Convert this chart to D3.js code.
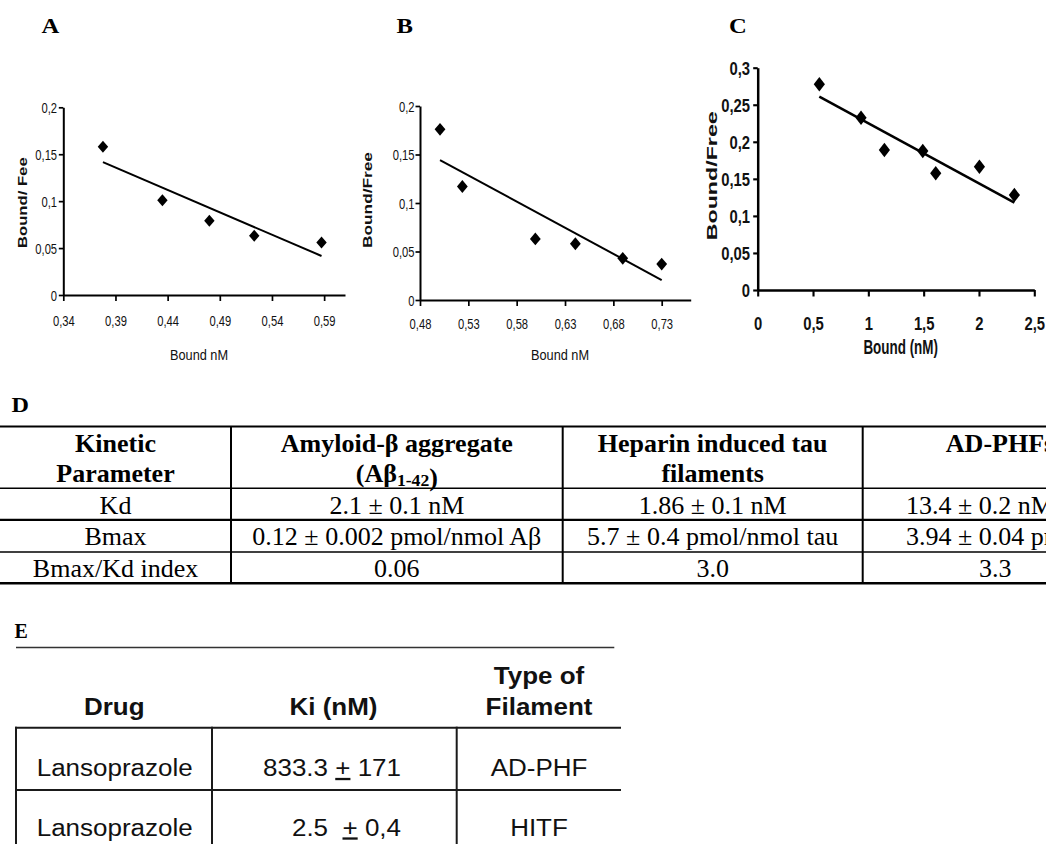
<!DOCTYPE html>
<html><head><meta charset="utf-8">
<script src="https://cdn.jsdelivr.net/npm/d3@7"></script>
<style>body{margin:0;background:#fff} svg{display:block}</style>
</head><body>
<svg id="fig" width="1046" height="844"></svg>
<script>
// ---------- DATA ----------
const boundA = [0.378, 0.435, 0.480, 0.523, 0.5875];
const ratioA = [0.158, 0.101, 0.079, 0.063, 0.056];
const trendA = [[0.378, 0.1415], [0.5875, 0.0416]];
const xTicksA = [0.34, 0.39, 0.44, 0.49, 0.54, 0.59];
const xLabelsA = ["0,34", "0,39", "0,44", "0,49", "0,54", "0,59"];

const boundB = [0.5007, 0.5238, 0.5993, 0.6407, 0.6897, 0.730];
const ratioB = [0.176, 0.117, 0.063, 0.058, 0.043, 0.037];
const trendB = [[0.5007, 0.1443], [0.730, 0.0206]];
const xTicksB = [0.48, 0.53, 0.58, 0.63, 0.68, 0.73];
const xLabelsB = ["0,48", "0,53", "0,58", "0,63", "0,68", "0,73"];

const yTicksAB = [0, 0.05, 0.1, 0.15, 0.2];
const yLabelsAB = ["0", "0,05", "0,1", "0,15", "0,2"];

const boundC = [0.557, 0.934, 1.145, 1.492, 1.609, 2.004, 2.320];
const ratioC = [0.2776, 0.2325, 0.189, 0.1876, 0.1575, 0.1664, 0.1282];
const trendC = [[0.557, 0.261], [2.320, 0.118]];
const xTicksC = [0, 0.5, 1, 1.5, 2, 2.5];
const xLabelsC = ["0", "0,5", "1", "1,5", "2", "2,5"];
const yTicksC = [0, 0.05, 0.1, 0.15, 0.2, 0.25, 0.3];
const yLabelsC = ["0", "0,05", "0,1", "0,15", "0,2", "0,25", "0,3"];

const tableDHeaders = [["Kinetic", "Parameter"], ["Amyloid-β aggregate", "(Aβ{1-42})"], ["Heparin induced tau", "filaments"], ["AD-PHFs", ""]];
const tableDRows = [
  ["Kd", "2.1 ± 0.1 nM", "1.86 ± 0.1 nM", "13.4 ± 0.2 nM"],
  ["Bmax", "0.12 ± 0.002 pmol/nmol Aβ", "5.7 ± 0.4 pmol/nmol tau", "3.94 ± 0.04 pmol/nmol tau"],
  ["Bmax/Kd index", "0.06", "3.0", "3.3"]
];

const tableEHeaders = [["Drug"], ["Ki (nM)"], ["Type of", "Filament"]];
const tableERows = [
  ["Lansoprazole", "833.3 ± 171", "AD-PHF"],
  ["Lansoprazole", "2.5  ± 0,4", "HITF"]
];

// ---------- DRAWING ----------
const svg = d3.select("#fig");
const SANS = "'Liberation Sans', Arial, sans-serif";
const SERIF = "'Liberation Serif', 'Times New Roman', serif";

function diamond(w, h) { return `M0,${-h}L${w},0L0,${h}L${-w},0Z`; }

function panel(o) {
  const x = d3.scaleLinear().domain(o.xDomain).range(o.xRange);
  const y = d3.scaleLinear().domain(o.yDomain).range(o.yRange);
  const g = svg.append("g");
  const gx = g.append("g").attr("transform", `translate(0,${o.yRange[0]})`)
    .call(d3.axisBottom(x).tickValues(o.xTicks).tickFormat((d, i) => o.xLabels[i]).tickSizeInner(o.xTick).tickSizeOuter(0));
  const gy = g.append("g").attr("transform", `translate(${o.xRange[0]},0)`)
    .call(d3.axisLeft(y).tickValues(o.yTicks).tickFormat((d, i) => o.yLabels[i]).tickSizeInner(o.yTick).tickSizeOuter(0));
  [gx, gy].forEach(a => {
    a.select(".domain").attr("stroke", "#000").attr("stroke-width", o.axisW);
    a.selectAll(".tick line").attr("stroke", "#000").attr("stroke-width", o.axisW * 0.85);
    a.selectAll(".tick text").attr("fill", "#111")
      .style("font-family", SANS).style("font-size", o.tickFont + "px").style("font-weight", o.tickWeight);
  });
  gx.selectAll(".tick text").attr("y", null).attr("dy", null)
    .attr("transform", `translate(0,${o.xLabelBase}) scale(${o.sx},1)`);
  gy.selectAll(".tick text").attr("x", null).attr("dy", "0.36em")
    .attr("transform", `translate(${-o.yLabelGap},0) scale(${o.sx},1)`);

  g.append("line")
    .attr("x1", x(o.trend[0][0])).attr("y1", y(o.trend[0][1]))
    .attr("x2", x(o.trend[1][0])).attr("y2", y(o.trend[1][1]))
    .attr("stroke", "#000").attr("stroke-width", o.trendW);

  g.selectAll("path.pt").data(d3.zip(o.xs, o.ys)).join("path").attr("class", "pt")
    .attr("d", diamond(o.dw, o.dh))
    .attr("transform", d => `translate(${x(d[0])},${y(d[1])})`)
    .attr("fill", "#000");

  g.append("text").text(o.xTitle)
    .attr("transform", `translate(${o.xTitlePos[0]},${o.xTitlePos[1]}) scale(${o.xTitleSx},1)`)
    .attr("text-anchor", "middle").attr("fill", "#111")
    .style("font-family", SANS).style("font-size", o.xTitleFont + "px").style("font-weight", o.xTitleWeight);

  g.append("text").text(o.yTitle)
    .attr("transform", `translate(${o.yTitlePos[0]},${o.yTitlePos[1]}) rotate(-90) scale(${o.yTitleStretch},1)`)
    .attr("text-anchor", "middle").attr("fill", "#111")
    .style("font-family", SANS).style("font-size", o.yTitleFont + "px").style("font-weight", "bold");

  g.append("text").text(o.letter)
    .attr("transform", `translate(${o.letterPos[0]},${o.letterPos[1]}) scale(1.2,1)`)
    .attr("fill", "#000")
    .style("font-family", SERIF).style("font-size", "20.5px").style("font-weight", "bold");
}

panel({
  letter: "A", letterPos: [41.5, 33.3],
  xDomain: [0.34, 0.61], xRange: [63.3, 345], yDomain: [0, 0.2], yRange: [295, 107.3],
  xTicks: xTicksA, xLabels: xLabelsA, yTicks: yTicksAB, yLabels: yLabelsAB,
  xs: boundA, ys: ratioA, trend: trendA,
  xTick: 6, yTick: 4.5, axisW: 2, trendW: 2, dw: 5.2, dh: 6,
  tickFont: 14, tickWeight: "normal", sx: 0.8, xLabelBase: 30.5, yLabelGap: 6.2,
  xTitle: "Bound nM", xTitlePos: [199, 360], xTitleSx: 0.88, xTitleFont: 14.5, xTitleWeight: "normal",
  yTitle: "Bound/ Fee", yTitlePos: [27, 202.7], yTitleStretch: 1.39, yTitleFont: 12
});

panel({
  letter: "B", letterPos: [396.5, 33.3],
  xDomain: [0.48, 0.76], xRange: [420, 690.7], yDomain: [0, 0.2], yRange: [300, 106],
  xTicks: xTicksB, xLabels: xLabelsB, yTicks: yTicksAB, yLabels: yLabelsAB,
  xs: boundB, ys: ratioB, trend: trendB,
  xTick: 6, yTick: 4.5, axisW: 2, trendW: 2, dw: 5.4, dh: 6.4,
  tickFont: 14, tickWeight: "normal", sx: 0.8, xLabelBase: 28.5, yLabelGap: 5.5,
  xTitle: "Bound nM", xTitlePos: [560, 360], xTitleSx: 0.88, xTitleFont: 14.5, xTitleWeight: "normal",
  yTitle: "Bound/Free", yTitlePos: [372, 200], yTitleStretch: 1.44, yTitleFont: 12
});

panel({
  letter: "C", letterPos: [729, 33.3],
  xDomain: [0, 2.5], xRange: [757.7, 1034.3], yDomain: [0, 0.3], yRange: [290, 67.7],
  xTicks: xTicksC, xLabels: xLabelsC, yTicks: yTicksC, yLabels: yLabelsC,
  xs: boundC, ys: ratioC, trend: trendC,
  xTick: 6.5, yTick: 4.5, axisW: 2.5, trendW: 2.5, dw: 5.6, dh: 7.2,
  tickFont: 18.5, tickWeight: "bold", sx: 0.8, xLabelBase: 40, yLabelGap: 7.7,
  xTitle: "Bound (nM)", xTitlePos: [900.7, 354], xTitleSx: 0.64, xTitleFont: 21, xTitleWeight: "bold",
  yTitle: "Bound/Free", yTitlePos: [717, 175.8], yTitleStretch: 1.55, yTitleFont: 15
});

// ---------- rich text helper ----------
function richText(sel, str, opts) {
  const parts = str.split(/(\{[^}]*\}|±)/).filter(s => s !== "");
  parts.forEach(p => {
    if (p.startsWith("{")) {
      sel.append("tspan").text(p.slice(1, -1)).style("font-size", "0.68em").attr("dy", "0.28em");
      sel.append("tspan").text("").attr("dy", "-0.28em");
    } else if (p === "±" && opts && opts.underlinedPlus) {
      sel.append("tspan").text("+").style("text-decoration", "underline");
    } else {
      sel.append("tspan").text(p);
    }
  });
}

// ---------- Table D ----------
const gD = svg.append("g");
gD.append("text").text("D").attr("transform", "translate(11.5,411.7) scale(1.15,1)")
  .style("font-family", SERIF).style("font-size", "21px").style("font-weight", "bold");
const colD = [0, 231, 562.7, 862.7, 1128];
const rowLinesD = [426.5, 488.3, 519.8, 552, 583.3];
const rowLineWD = [2.2, 1.4, 2.2, 1.4, 2.4];
rowLinesD.forEach((yy, i) => gD.append("line").attr("x1", 0).attr("x2", 1046).attr("y1", yy).attr("y2", yy)
  .attr("stroke", "#000").attr("stroke-width", rowLineWD[i]));
colD.slice(1, 4).forEach(xx => gD.append("line").attr("x1", xx).attr("x2", xx)
  .attr("y1", rowLinesD[0]).attr("y2", rowLinesD[4]).attr("stroke", "#000").attr("stroke-width", 2));
const headBaseD = [451.5, 481.5];
const rowBaseD = [513.5, 545, 576.5];
tableDHeaders.forEach((lines, c) => {
  const cx = (colD[c] + colD[c + 1]) / 2;
  lines.forEach((ln, k) => {
    const t = gD.append("text").attr("x", c === 3 ? 1000 : cx).attr("y", headBaseD[k]).attr("text-anchor", "middle")
      .style("font-family", SERIF).style("font-size", "26px").style("font-weight", "bold").attr("fill", "#000");
    richText(t, ln);
  });
});
tableDRows.forEach((row, r) => {
  row.forEach((cell, c) => {
    let cx = (colD[c] + colD[c + 1]) / 2, anchor = "middle";
    if (c === 3 && r < 2) { cx = 906; anchor = "start"; }
    const t = gD.append("text").attr("x", cx).attr("y", rowBaseD[r]).attr("text-anchor", anchor)
      .style("font-family", SERIF).style("font-size", "26px").attr("fill", "#000");
    richText(t, cell);
  });
});

// ---------- Table E ----------
const gE = svg.append("g");
gE.append("text").text("E").attr("transform", "translate(14.5,637.5) scale(0.95,1)")
  .style("font-family", SERIF).style("font-size", "21px").style("font-weight", "bold");
gE.append("line").attr("x1", 16).attr("x2", 614.3).attr("y1", 647.5).attr("y2", 647.5)
  .attr("stroke", "#333").attr("stroke-width", 1.4);
const colE = [16, 212, 456.7, 621];
const rowLinesE = [727.7, 790];
rowLinesE.forEach(yy => gE.append("line").attr("x1", 15).attr("x2", 621).attr("y1", yy).attr("y2", yy)
  .attr("stroke", "#1a1a1a").attr("stroke-width", 2));
colE.slice(0, 3).forEach(xx => gE.append("line").attr("x1", xx).attr("x2", xx).attr("y1", 726.7).attr("y2", 844)
  .attr("stroke", "#1a1a1a").attr("stroke-width", 2));
const headXE = [114.3, 333.5, 539];
tableEHeaders.forEach((lines, c) => {
  const bases = lines.length === 2 ? [683.5, 714.5] : [715];
  lines.forEach((ln, k) => {
    gE.append("text").text(ln).attr("transform", `translate(${headXE[c]},${bases[k]}) scale(1.13,1)`)
      .attr("text-anchor", "middle").attr("fill", "#111")
      .style("font-family", SANS).style("font-size", "23px").style("font-weight", "bold");
  });
});
const rowBaseE = [776, 835.5];
tableERows.forEach((row, r) => {
  row.forEach((cell, c) => {
    const xx = c === 1 ? 401 : headXE[c] + (c === 0 ? 0.4 : 0);
    const t = gE.append("text").attr("transform", `translate(${xx},${rowBaseE[r]}) scale(1.13,1)`)
      .attr("text-anchor", c === 1 ? "end" : "middle").attr("fill", "#111")
      .style("font-family", SANS).style("font-size", "23px").style("white-space", "pre")
      .attr("xml:space", "preserve");
    richText(t, cell, { underlinedPlus: true });
  });
});
</script>
</body></html>
